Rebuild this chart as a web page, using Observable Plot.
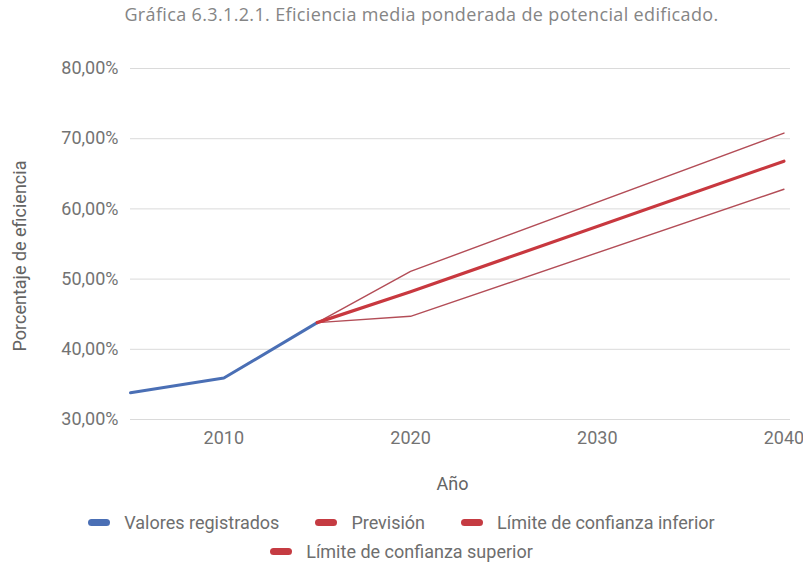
<!DOCTYPE html>
<html>
<head>
<meta charset="utf-8">
<script src="https://cdn.jsdelivr.net/npm/d3@7"></script>
<script src="https://cdn.jsdelivr.net/npm/@observablehq/plot@0.6"></script>
<style>
  body { margin: 0; background: #fff; }
  #wrap { width: 803px; height: 566px; position: relative; overflow: hidden; background: #fff; }
  #title { height: 40px; line-height: 28px; font-family: "Open Sans", sans-serif; font-size: 18px; letter-spacing: 0.35px; color: #858585; text-align: center; padding-left: 40px; box-sizing: border-box; white-space: nowrap; }
  #chart { height: 460px; }
  #legend { width: 760px; margin: 0 auto; padding-top: 8px; display: flex; flex-wrap: wrap; justify-content: center; font-family: Roboto, sans-serif; font-size: 18px; color: #6e6e6e; line-height: 29px; }
  .item { display: flex; align-items: center; margin: 0 18px; white-space: nowrap; }
  .sw { width: 22px; height: 7px; border-radius: 4px; margin-right: 14px; }
</style>
</head>
<body>
<div id="wrap">
  <div id="title"></div>
  <div id="chart"></div>
  <div id="legend"></div>
</div>
<script>
const titleText = "Gráfica 6.3.1.2.1. Eficiencia media ponderada de potencial edificado.";
const xLabel = "Año";
const yLabel = "Porcentaje de eficiencia";

// Valores registrados
const regYears = [2005, 2010, 2015];
const regValues = [33.8, 35.9, 43.8];

// Previsión y límites de confianza
const fcYears = [2015, 2020, 2040];
const prevision = [43.8, 48.2, 66.8];
const limInferior = [43.8, 44.7, 62.8];
const limSuperior = [43.8, 51.1, 70.8];

const xTicks = [2010, 2020, 2030, 2040];
const yTicks = [30, 40, 50, 60, 70, 80];

const seriesNames = ["Valores registrados", "Previsión", "Límite de confianza inferior", "Límite de confianza superior"];
const seriesColors = ["#4a6fb5", "#c53b42", "#c53b42", "#c53b42"];
const lineColors = ["#4a6fb5", "#c8383f", "#b34d57", "#b34d57"];

const registered = regYears.map((year, i) => ({year, value: regValues[i], series: seriesNames[0]}));
const forecast = [
  ...fcYears.map((year, i) => ({year, value: prevision[i], series: seriesNames[1]})),
  ...fcYears.map((year, i) => ({year, value: limInferior[i], series: seriesNames[2]})),
  ...fcYears.map((year, i) => ({year, value: limSuperior[i], series: seriesNames[3]}))
];

const fmt = d => d.toFixed(2).replace(".", ",") + "%";

document.getElementById("title").textContent = titleText;

const chart = Plot.plot({
  width: 803,
  height: 460,
  marginLeft: 130,
  marginRight: 13,
  marginTop: 28,
  marginBottom: 81,
  x: {domain: [2005, 2040.35]},
  y: {domain: [30, 80]},
  style: {fontFamily: "Roboto, sans-serif", fontSize: "18px", color: "#737373", background: "white", overflow: "visible"},
  marks: [
    Plot.ruleY(yTicks, {stroke: "#dadada", strokeWidth: 1}),
    Plot.axisY({ticks: yTicks, tickSize: 0, tickPadding: 12, tickFormat: fmt, label: null, fill: "#737373"}),
    Plot.axisX({ticks: xTicks, tickSize: 0, tickPadding: 12, tickFormat: d => String(d), label: null, fill: "#737373"}),
    Plot.text([xLabel], {frameAnchor: "bottom", lineAnchor: "middle", textAnchor: "middle", dy: 65, dx: -8, fill: "#646464"}),
    Plot.text([yLabel], {frameAnchor: "left", lineAnchor: "middle", textAnchor: "middle", rotate: -90, dx: -110, dy: 12, fill: "#646464"}),
    Plot.line(registered, {x: "year", y: "value", stroke: lineColors[0], strokeWidth: 3}),
    Plot.line(forecast.filter(d => d.series === seriesNames[2]), {x: "year", y: "value", stroke: lineColors[2], strokeWidth: 1.4}),
    Plot.line(forecast.filter(d => d.series === seriesNames[3]), {x: "year", y: "value", stroke: lineColors[3], strokeWidth: 1.4}),
    Plot.line(forecast.filter(d => d.series === seriesNames[1]), {x: "year", y: "value", stroke: lineColors[1], strokeWidth: 3.2})
  ]
});
document.getElementById("chart").appendChild(chart);

const legend = document.getElementById("legend");
seriesNames.forEach((name, i) => {
  const item = document.createElement("div");
  item.className = "item";
  const sw = document.createElement("div");
  sw.className = "sw";
  sw.style.background = seriesColors[i];
  const label = document.createElement("span");
  label.textContent = name;
  item.appendChild(sw);
  item.appendChild(label);
  legend.appendChild(item);
});
</script>
</body>
</html>
